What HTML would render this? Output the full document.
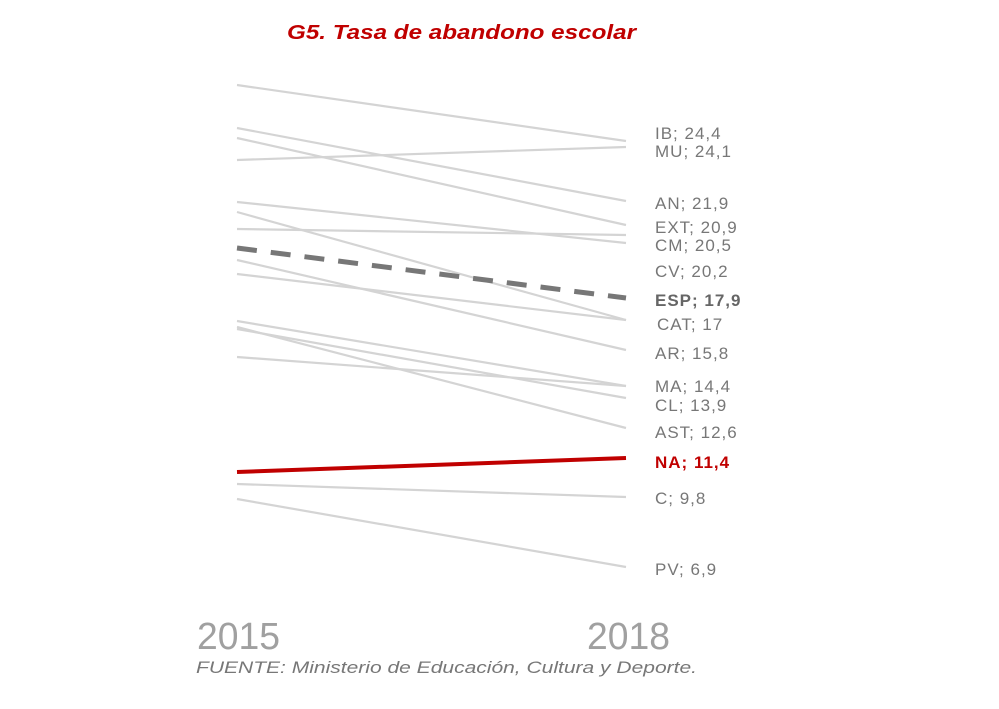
<!DOCTYPE html><html><head><style>body{margin:0;background:#fff}svg text{font-family:"Liberation Sans",sans-serif}</style></head><body>
<svg width="999" height="704" xmlns="http://www.w3.org/2000/svg">
<text x="287" y="39" textLength="349" lengthAdjust="spacingAndGlyphs" font-size="20" font-weight="bold" font-style="italic" fill="#c00000">G5. Tasa de abandono escolar</text>
<g stroke="#d4d4d4" stroke-width="2.2" fill="none">
<line x1="237" y1="85" x2="626" y2="141"/>
<line x1="237" y1="128" x2="626" y2="201"/>
<line x1="237" y1="138" x2="626" y2="225"/>
<line x1="237" y1="160" x2="626" y2="147"/>
<line x1="237" y1="202" x2="626" y2="243"/>
<line x1="237" y1="212" x2="626" y2="320"/>
<line x1="237" y1="229" x2="626" y2="235"/>
<line x1="237" y1="260" x2="626" y2="350"/>
<line x1="237" y1="274" x2="626" y2="320"/>
<line x1="237" y1="321" x2="626" y2="386"/>
<line x1="237" y1="327" x2="626" y2="428"/>
<line x1="237" y1="329" x2="626" y2="398"/>
<line x1="237" y1="357" x2="626" y2="386"/>
<line x1="237" y1="484" x2="626" y2="497"/>
<line x1="237" y1="499" x2="626" y2="567"/>
</g>
<line x1="237" y1="248" x2="626" y2="298" stroke="#777" stroke-width="5" stroke-dasharray="20,14"/>
<line x1="237" y1="472" x2="626" y2="458" stroke="#c00000" stroke-width="4"/>
<g font-size="17" fill="#777" letter-spacing="1">
<text x="655" y="139">IB; 24,4</text>
<text x="655" y="157">MU; 24,1</text>
<text x="655" y="209">AN; 21,9</text>
<text x="655" y="233">EXT; 20,9</text>
<text x="655" y="251">CM; 20,5</text>
<text x="655" y="277">CV; 20,2</text>
<text x="655" y="306" font-weight="bold" fill="#666">ESP; 17,9</text>
<text x="657" y="330">CAT; 17</text>
<text x="655" y="359">AR; 15,8</text>
<text x="655" y="392">MA; 14,4</text>
<text x="655" y="411">CL; 13,9</text>
<text x="655" y="438">AST; 12,6</text>
<text x="655" y="468" font-weight="bold" fill="#c00000">NA; 11,4</text>
<text x="655" y="504">C; 9,8</text>
<text x="655" y="575">PV; 6,9</text>
</g>
<text x="197" y="649" font-size="38" fill="#a0a0a0" textLength="83" lengthAdjust="spacingAndGlyphs">2015</text>
<text x="587" y="649" font-size="38" fill="#a0a0a0" textLength="83" lengthAdjust="spacingAndGlyphs">2018</text>
<text x="196" y="673" font-size="17" font-style="italic" fill="#777" textLength="501" lengthAdjust="spacingAndGlyphs">FUENTE: Ministerio de Educación, Cultura y Deporte.</text>
</svg></body></html>
